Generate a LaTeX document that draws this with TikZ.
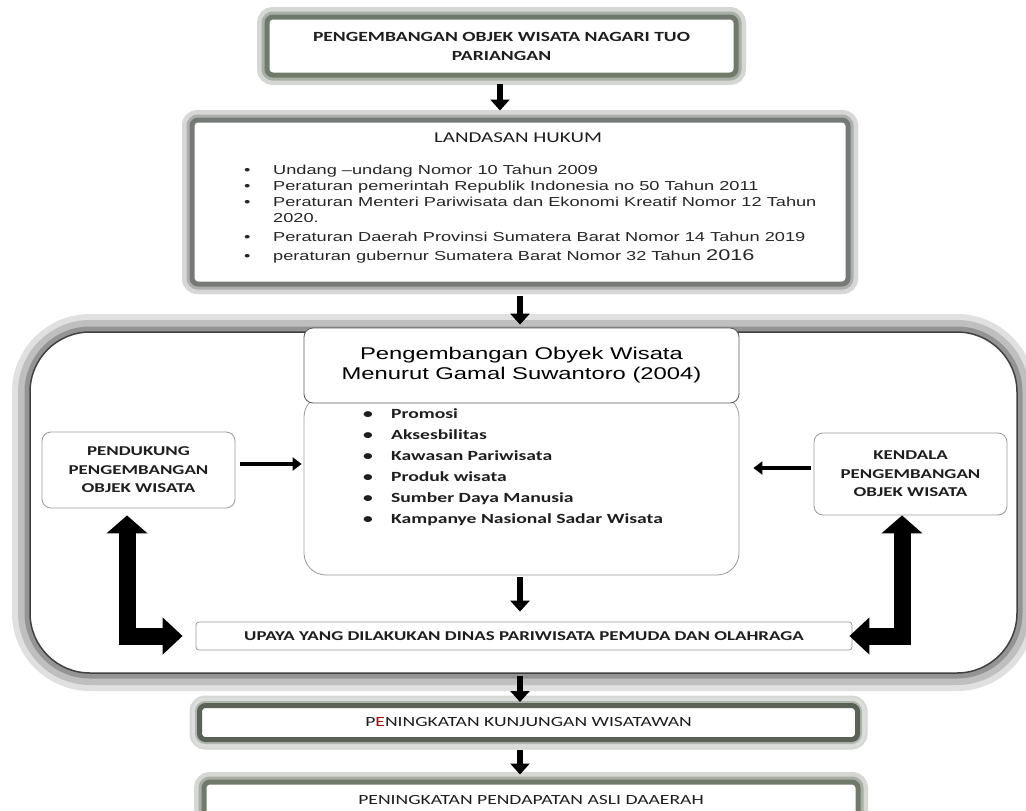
\documentclass[tikz,border=0pt]{standalone}
\usepackage{fontspec}
\usetikzlibrary{positioning, arrows.meta, calc}
\newfontfamily\calibfont{Carlito}[FakeStretch=1.4]
\newfontfamily\arialfont{Liberation Sans}[FakeStretch=1.4]
\definecolor{glowgreen}{RGB}{112,122,106}
\definecolor{glowgrey}{RGB}{118,122,118}
\definecolor{textgrey}{RGB}{30,30,30}

\begin{document}
\begin{tikzpicture}[x=1pt, y=-1pt,
        glowbox/.style={rectangle, rounded corners=6pt, fill=white, draw=glowgreen, line width=5pt,
            preaction={draw=glowgreen!30, line width=20pt}, preaction={draw=glowgreen!60, line width=11pt},
            align=center, inner sep=0pt, text=textgrey},
        framebox/.style={rectangle, rounded corners=60pt, fill=white, draw=black!75, line width=1.5pt,
            preaction={draw=black!12, line width=36pt}, preaction={draw=black!25, line width=24pt},
            preaction={draw=black!42, line width=11pt}},
        thinbox/.style={rectangle, rounded corners=9pt, fill=white, draw=black!40, line width=0.8pt,
            align=center, inner sep=0pt, text=textgrey},
        capsbold/.style={font=\calibfont\bfseries\fontsize{14}{19}\selectfont},
        capsplain/.style={font=\calibfont\fontsize{14}{19}\selectfont},
        arrow/.style={-{Triangle[length=11pt,width=19pt]}, line width=6.5pt, draw=black},
        sidearrow/.style={-{Triangle[length=9pt,width=13pt]}, line width=4.5pt, draw=black},
        elbow/.style={{Triangle[length=18pt,width=40pt]}-{Triangle[length=20pt,width=36pt]}, line width=17pt, draw=black}
    ]
    \useasboundingbox (0,0) rectangle (1026,811);
    \fill[white] (0,0) rectangle (1026,811);
    \coordinate (col) at (520,0);

    % top of the chain
    \node[glowbox, capsbold, minimum width=469pt, minimum height=58pt] (top) at (501.5,46)
        {PENGEMBANGAN OBJEK WISATA NAGARI TUO\\PARIANGAN};
    \node[glowbox, draw=glowgrey, preaction={draw=glowgrey!30, line width=20pt},
        preaction={draw=glowgrey!60, line width=11pt}, minimum width=656pt, minimum height=164pt] (land) at (520,202) {};
    \node[capsplain, font=\calibfont\fontsize{15}{19}\selectfont, text=textgrey] (landtitle) at (518,138) {LANDASAN HUKUM};
    \node[anchor=north west, align=left, inner sep=0pt, text=black!85,
        font=\arialfont\fontsize{13}{16}\selectfont] (landitems) at (244,165) {%
        \makebox[29pt][l]{\textbullet}Undang –undang Nomor 10 Tahun 2009\\
        \makebox[29pt][l]{\textbullet}Peraturan pemerintah Republik Indonesia no 50 Tahun 2011\\
        \makebox[29pt][l]{\textbullet}Peraturan Menteri Pariwisata dan Ekonomi Kreatif Nomor 12 Tahun\\
        \hspace*{29pt}2020.\\[3pt]
        \makebox[29pt][l]{\textbullet}Peraturan Daerah Provinsi Sumatera Barat Nomor 14 Tahun 2019\\[3pt]
        \makebox[29pt][l]{\textbullet}peraturan gubernur Sumatera Barat Nomor 32 Tahun {\fontsize{15.5}{16}\selectfont 2016}};

    % the big frame and what lies in it
    \node[framebox, minimum width=987pt, minimum height=341pt] (frame) at (523.5,502.5) {};
    \node[thinbox, rounded corners=22pt, minimum width=435pt, minimum height=180pt] (list) at (521.5,485) {};
    \node[thinbox, draw=black!65, minimum width=435pt, minimum height=75pt, text=black,
        font=\arialfont\fontsize{17}{20}\selectfont] (title) at (521.5,365.5)
        {Pengembangan Obyek Wisata\\Menurut Gamal Suwantoro (2004)};
    \node[anchor=north west, align=left, inner sep=0pt, text=textgrey,
        font=\calibfont\bfseries\fontsize{14}{21}\selectfont] (listitems) at (363,408) {%
        \makebox[28pt][l]{\textbullet}Promosi\\
        \makebox[28pt][l]{\textbullet}Aksesbilitas\\
        \makebox[28pt][l]{\textbullet}Kawasan Pariwisata\\
        \makebox[28pt][l]{\textbullet}Produk wisata\\
        \makebox[28pt][l]{\textbullet}Sumber Daya Manusia\\
        \makebox[28pt][l]{\textbullet}Kampanye Nasional Sadar Wisata};
    \node[thinbox, capsbold, font=\calibfont\bfseries\fontsize{13.5}{18.5}\selectfont,
        minimum width=193pt, minimum height=76pt] (lbox) at (138.5,470)
        {PENDUKUNG\\PENGEMBANGAN\\OBJEK WISATA};
    \node[thinbox, font=\calibfont\bfseries\fontsize{13.5}{18.5}\selectfont,
        minimum width=193pt, minimum height=82pt] (rbox) at (910.5,474)
        {KENDALA\\PENGEMBANGAN\\OBJEK WISATA};
    \node[thinbox, rounded corners=3pt, capsbold, font=\calibfont\bfseries\fontsize{13.5}{18}\selectfont,
        minimum width=656pt, minimum height=28pt] (upaya) at (524,636)
        {UPAYA YANG DILAKUKAN DINAS PARIWISATA PEMUDA DAN OLAHRAGA};

    % bottom of the chain
    \node[glowbox, draw=glowgreen!80!black, preaction={draw=glowgreen!25, line width=16pt},
        preaction={draw=glowgreen!55, line width=9pt}, capsplain,
        minimum width=658pt, minimum height=34pt] (kunj) at (528.5,722.5)
        {P\textcolor{red!75!black}{E}NINGKATAN KUNJUNGAN WISATAWAN};
    \node[glowbox, capsplain, minimum width=654pt, minimum height=36pt] (final) at (531,800)
        {PENINGKATAN PENDAPATAN ASLI DAAERAH};

    % connectors
    \draw[arrow, shorten <=6pt, shorten >=7pt] (top.south -| 500,0) -- (land.north -| 500,0);
    \draw[arrow, shorten <=9pt, shorten >=3pt] (col |- land.south) -- (col |- title.north);
    \draw[sidearrow, shorten <=5pt, shorten >=2pt] ([yshift=6pt]lbox.east) -- ([yshift=6pt]list.west |- lbox.east);
    \draw[sidearrow, shorten <=3pt, shorten >=14pt] ([yshift=6pt]rbox.west) -- ([yshift=6pt]list.east |- rbox.west);
    \draw[arrow, shorten <=2pt, shorten >=10pt] (col |- list.south) -- (col |- upaya.north);
    \draw[elbow, shorten <=7pt, shorten >=13pt] ([xshift=-11.5pt]lbox.south) |- (upaya.west);
    \draw[elbow, shorten >=-3pt] ([xshift=-8.5pt]rbox.south) |- (upaya.east);
    \draw[arrow, shorten <=2pt, shorten >=1pt] (col |- frame.south) -- (col |- kunj.north);
    \draw[arrow, shorten <=8pt, shorten >=5pt] (col |- kunj.south) -- (col |- final.north);
\end{tikzpicture}
\end{document}
